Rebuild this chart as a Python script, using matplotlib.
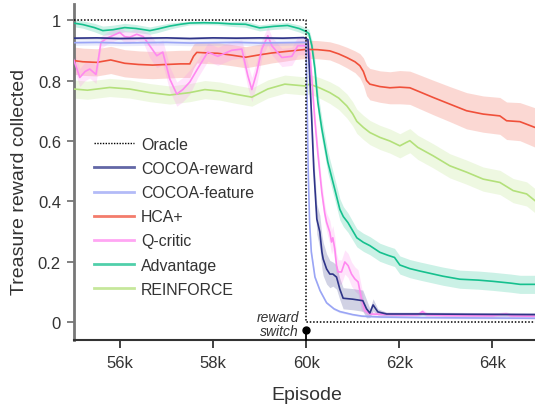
import matplotlib
matplotlib.use("Agg")
import matplotlib.pyplot as plt
from matplotlib.lines import Line2D
import numpy as np

plt.rcParams['font.family'] = ['Liberation Sans', 'DejaVu Sans']

# ---------------- data ----------------
oracle_ep = [55000, 60000, 60000, 65000]
oracle_val = [1.0, 1.0, 0.0, 0.0]

reward_ep = [55000, 55500, 56000, 56500, 57000, 57500, 58000, 58500, 59000, 59500, 59950,
             60040, 60120, 60165, 60230, 60295, 60340, 60366, 60440, 60510, 60575, 60654,
             60725, 60796, 61000, 61219, 61299, 61370, 61440, 61542, 61730, 62500, 63500, 65000]
reward_mean = [0.940, 0.941, 0.939, 0.940, 0.941, 0.939, 0.941, 0.940, 0.941, 0.940, 0.942,
               0.935, 0.672, 0.507, 0.342, 0.299, 0.233, 0.210, 0.177, 0.160, 0.160, 0.150,
               0.110, 0.080, 0.077, 0.072, 0.045, 0.031, 0.058, 0.035, 0.028, 0.028, 0.027, 0.026]
reward_err = [0.004, 0.004, 0.004, 0.004, 0.004, 0.004, 0.004, 0.004, 0.004, 0.004, 0.004,
              0.006, 0.030, 0.040, 0.050, 0.055, 0.055, 0.055, 0.050, 0.045, 0.040, 0.040,
              0.035, 0.035, 0.035, 0.035, 0.030, 0.015, 0.020, 0.010, 0.006, 0.006, 0.006, 0.006]

feature_ep = [55000, 55500, 56000, 56500, 57000, 57500, 58000, 58500, 59000, 59500, 59950,
              60000, 60020, 60045, 60075, 60112, 60190, 60300, 60440, 60600, 60725, 61000,
              61200, 61600, 62500, 63500, 65000]
feature_mean = [0.925, 0.926, 0.924, 0.925, 0.926, 0.924, 0.925, 0.926, 0.924, 0.925, 0.926,
                0.925, 0.750, 0.500, 0.330, 0.233, 0.150, 0.105, 0.065, 0.045, 0.036, 0.026,
                0.021, 0.018, 0.016, 0.015, 0.014]
feature_err = [0.009, 0.009, 0.009, 0.009, 0.009, 0.009, 0.009, 0.009, 0.009, 0.009, 0.009,
               0.009, 0.010, 0.010, 0.010, 0.008, 0.006, 0.005, 0.004, 0.004, 0.004, 0.003,
               0.003, 0.003, 0.003, 0.003, 0.003]

hca_ep = [55000, 55200, 55500, 55800, 56100, 56400, 56700, 57000, 57300, 57500,
          57580, 57650, 57900, 58100, 58400, 58700, 59000, 59260, 59500, 59750,
          60000, 60250, 60510, 60700, 60875, 61050, 61155, 61230, 61300, 61370,
          61585, 61800, 62015, 62230, 62450, 62731, 63089, 63449, 63806, 64165,
          64309, 64595, 64917]
hca_mean = [0.866, 0.862, 0.860, 0.868, 0.857, 0.853, 0.851, 0.853, 0.855, 0.855,
            0.880, 0.893, 0.891, 0.890, 0.884, 0.877, 0.885, 0.891, 0.895, 0.899,
            0.903, 0.902, 0.898, 0.888, 0.876, 0.862, 0.849, 0.830, 0.800, 0.788,
            0.780, 0.776, 0.778, 0.776, 0.762, 0.744, 0.722, 0.700, 0.689, 0.683,
            0.667, 0.664, 0.645]
hca_err = [0.045, 0.045, 0.045, 0.045, 0.045, 0.045, 0.045, 0.045, 0.045, 0.045,
           0.040, 0.035, 0.035, 0.035, 0.035, 0.035, 0.035, 0.033, 0.032, 0.030,
           0.030, 0.030, 0.030, 0.032, 0.034, 0.036, 0.040, 0.045, 0.050, 0.052,
           0.052, 0.053, 0.055, 0.055, 0.056, 0.057, 0.058, 0.060, 0.060, 0.061,
           0.062, 0.063, 0.065]

q_ep = [55000, 55070, 55135, 55250, 55350, 55483, 55590, 55720, 55995, 56100,
        56209, 56360, 56500, 56639, 56790, 56919, 57070, 57220, 57349, 57500,
        57672, 57887, 58102, 58403, 58618, 58747, 58833, 58940, 59048, 59177,
        59263, 59478, 59693, 59822, 59972, 60080, 60187, 60252, 60338, 60402,
        60439, 60510, 60546, 60574, 60617, 60654, 60688, 60760, 60832, 60903,
        60976, 61047, 61118, 61191, 61262, 61370, 61600, 62000, 62400, 62500,
        62600, 63000, 64000, 64300, 64400, 65000]
q_mean = [0.870, 0.840, 0.810, 0.830, 0.838, 0.820, 0.926, 0.940, 0.959, 0.945,
          0.943, 0.953, 0.945, 0.915, 0.882, 0.894, 0.805, 0.755, 0.770, 0.795,
          0.840, 0.894, 0.880, 0.900, 0.904, 0.816, 0.770, 0.827, 0.904, 0.948,
          0.915, 0.876, 0.880, 0.915, 0.915, 0.890, 0.670, 0.560, 0.430, 0.360,
          0.332, 0.298, 0.266, 0.280, 0.243, 0.188, 0.167, 0.167, 0.200, 0.188,
          0.160, 0.144, 0.134, 0.078, 0.039, 0.028, 0.027, 0.025, 0.025, 0.036,
          0.025, 0.023, 0.022, 0.028, 0.022, 0.020]
q_err = [0.030, 0.030, 0.030, 0.030, 0.030, 0.030, 0.020, 0.020, 0.020, 0.020,
         0.020, 0.020, 0.020, 0.040, 0.040, 0.040, 0.040, 0.040, 0.040, 0.040,
         0.030, 0.030, 0.030, 0.030, 0.030, 0.040, 0.040, 0.040, 0.030, 0.030,
         0.030, 0.030, 0.030, 0.030, 0.030, 0.030, 0.030, 0.030, 0.030, 0.030,
         0.030, 0.040, 0.040, 0.040, 0.040, 0.040, 0.040, 0.040, 0.040, 0.040,
         0.040, 0.040, 0.040, 0.040, 0.008, 0.008, 0.008, 0.008, 0.008, 0.008,
         0.008, 0.008, 0.008, 0.008, 0.008, 0.008]

adv_ep = [55000, 55200, 55450, 55630, 55850, 56100, 56350, 56640, 56800, 57070,
          57300, 57500, 57800, 58100, 58400, 58700, 59000, 59300, 59600, 59850,
          60000, 60060, 60123, 60187, 60252, 60338, 60467, 60617, 60725, 60800,
          60900, 61090, 61230, 61370, 61585, 61760, 61900, 62015, 62230, 62445,
          62940, 63305, 63700, 64015, 64400, 64600, 65000]
adv_mean = [0.990, 0.985, 0.975, 0.965, 0.968, 0.975, 0.972, 0.965, 0.970, 0.980,
            0.986, 0.990, 0.991, 0.990, 0.987, 0.986, 0.974, 0.979, 0.982, 0.972,
            0.962, 0.955, 0.915, 0.840, 0.728, 0.640, 0.530, 0.440, 0.374, 0.350,
            0.330, 0.280, 0.265, 0.254, 0.232, 0.222, 0.215, 0.190, 0.178, 0.170,
            0.153, 0.143, 0.140, 0.136, 0.130, 0.126, 0.126]
adv_err = [0.012, 0.012, 0.014, 0.015, 0.015, 0.014, 0.013, 0.012, 0.012, 0.010,
           0.008, 0.006, 0.006, 0.006, 0.008, 0.010, 0.010, 0.010, 0.010, 0.012,
           0.012, 0.015, 0.020, 0.030, 0.035, 0.035, 0.035, 0.035, 0.035, 0.033,
           0.032, 0.030, 0.030, 0.030, 0.030, 0.030, 0.030, 0.030, 0.030, 0.030,
           0.030, 0.030, 0.030, 0.030, 0.030, 0.030, 0.030]

rein_ep = [55000, 55300, 55777, 56200, 56639, 57070, 57500, 57823, 58150, 58468,
           58833, 59177, 59542, 59972, 60080, 60300, 60510, 60700, 60875, 61000,
           61090, 61230, 61370, 61585, 61800, 62015, 62150, 62230, 62400, 62731,
           63089, 63449, 63806, 64165, 64450, 64740, 64917]
rein_mean = [0.772, 0.768, 0.777, 0.772, 0.760, 0.752, 0.760, 0.770, 0.765, 0.755,
             0.745, 0.772, 0.788, 0.782, 0.788, 0.775, 0.760, 0.742, 0.716, 0.690,
             0.665, 0.645, 0.628, 0.612, 0.600, 0.584, 0.595, 0.601, 0.579, 0.551,
             0.518, 0.497, 0.474, 0.463, 0.436, 0.425, 0.403]
rein_err = [0.030, 0.030, 0.030, 0.030, 0.030, 0.030, 0.030, 0.030, 0.030, 0.030,
            0.030, 0.030, 0.030, 0.030, 0.032, 0.034, 0.036, 0.038, 0.040, 0.040,
            0.040, 0.040, 0.040, 0.040, 0.040, 0.040, 0.040, 0.040, 0.040, 0.040,
            0.040, 0.040, 0.040, 0.040, 0.040, 0.040, 0.040]

series = [
    ("REINFORCE", rein_ep, rein_mean, rein_err, "#B3E07A"),
    ("Advantage", adv_ep, adv_mean, adv_err, "#16C08E"),
    ("HCA+", hca_ep, hca_mean, hca_err, "#F0503A"),
    ("Q-critic", q_ep, q_mean, q_err, "#FF88F0"),
    ("COCOA-feature", feature_ep, feature_mean, feature_err, "#9AA5F5"),
    ("COCOA-reward", reward_ep, reward_mean, reward_err, "#2E3488"),
]
legend_order = ["COCOA-reward", "COCOA-feature", "HCA+", "Q-critic", "Advantage", "REINFORCE"]

x_ticks = [56000, 58000, 60000, 62000, 64000]
x_ticklabels = ["56k", "58k", "60k", "62k", "64k"]
y_ticks = [0, 0.2, 0.4, 0.6, 0.8, 1.0]
y_ticklabels = ["0", "0.2", "0.4", "0.6", "0.8", "1"]
switch_ep = 60000

# ---------------- figure ----------------
W, H = 535, 406
fig = plt.figure(figsize=(W / 100, H / 100), dpi=100)
ax = fig.add_axes([73.5 / W, (H - 341) / H, (W - 73.5) / W, 336 / H])
ax.set_xlim(55000, 64920)
ax.set_ylim(-0.058, 1.053)

txt = "#333333"
colors = {}
for name, ep, m, e, c in series:
    ep = np.asarray(ep, float); m = np.asarray(m, float); e = np.asarray(e, float)
    ax.fill_between(ep, m - e, m + e, color=c, alpha=0.22, lw=0, zorder=1)
    colors[name] = c
for name, ep, m, e, c in series:
    ax.plot(ep, m, color=c, lw=1.2, zorder=3, solid_joinstyle='round')

ax.plot(oracle_ep, oracle_val, color="black", lw=1.1, ls=(0, (1, 1.2)), zorder=4)

# reward switch marker
ax.plot([switch_ep, switch_ep], [-0.058, -0.025], color="black", lw=1.3, zorder=5, clip_on=False)
ax.plot([switch_ep], [-0.025], 'o', color="black", ms=5, zorder=6, clip_on=False)
ax.text(59850, 0.006, "reward", style="italic", fontsize=10, ha="right", va="baseline", color=txt)
ax.text(59850, -0.040, "switch", style="italic", fontsize=10, ha="right", va="baseline", color=txt)

# axes styling
for s in ["top", "right"]:
    ax.spines[s].set_visible(False)
ax.spines["left"].set_color("#777777")
ax.spines["left"].set_linewidth(2.0)
ax.spines["bottom"].set_color("#333333")
ax.spines["bottom"].set_linewidth(1.5)
ax.set_xticks(x_ticks)
ax.set_xticklabels(x_ticklabels)
ax.set_yticks(y_ticks)
ax.set_yticklabels(y_ticklabels)
ax.tick_params(axis="x", length=6, width=1.3, color="#333333", labelsize=12, labelcolor=txt, pad=5)
ax.tick_params(axis="y", length=5, width=1.3, color="#777777", labelsize=12, labelcolor=txt, pad=4)

ax.set_xlabel("Episode", fontsize=14, color=txt)
ax.xaxis.set_label_coords(0.505, -0.138)
ax.set_ylabel("Treasure reward collected", fontsize=14, color=txt)
ax.yaxis.set_label_coords(-0.098, 0.473)

handles = [Line2D([0], [0], color="black", lw=1.0, ls=(0, (1, 1)))]
labels = ["Oracle"]
for name in legend_order:
    handles.append(Line2D([0], [0], color=colors[name], lw=2.0, alpha=0.75))
    labels.append(name)
leg = ax.legend(handles, labels, loc="upper left", bbox_to_anchor=(0.044, 0.605),
                frameon=False, fontsize=11.4, handlelength=2.53, handletextpad=0.44,
                labelspacing=0.58, borderpad=0, borderaxespad=0)
for t in leg.get_texts():
    t.set_color(txt)

fig.savefig("out.png", dpi=100)
